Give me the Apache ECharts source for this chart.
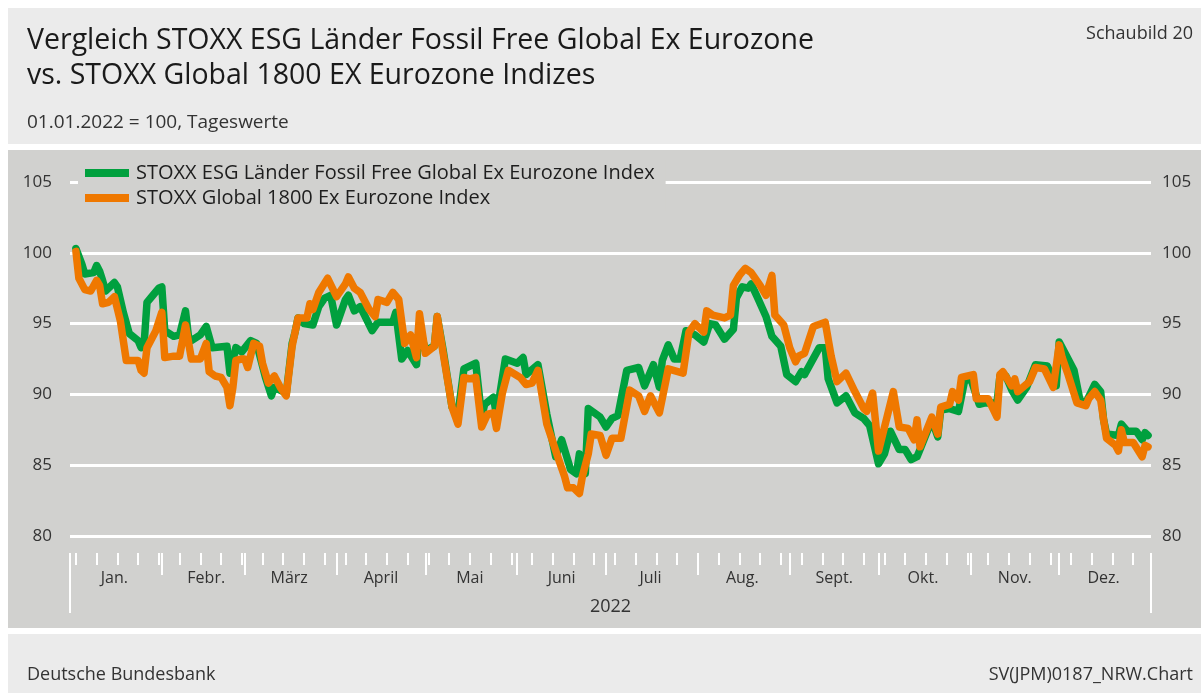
<!DOCTYPE html>
<html lang="de">
<head>
<meta charset="UTF-8">
<title>STOXX Vergleich</title>
<script src="https://cdn.jsdelivr.net/npm/echarts@6/dist/echarts.min.js"></script>
<style>html,body{margin:0;padding:0;background:#fff;}</style>
</head>
<body>
<div id="main" style="width:1201px;height:693px;"></div>
<script>
// Serien-Namen
var seriesNames = ['STOXX ESG Länder Fossil Free Global Ex Eurozone Index', 'STOXX Global 1800 Ex Eurozone Index'];

// STOXX ESG Länder Fossil Free Global Ex Eurozone (gruen)
var esgDates = ['2022-01-03','2022-01-05','2022-01-06','2022-01-09','2022-01-10','2022-01-11','2022-01-12','2022-01-13','2022-01-16','2022-01-17',
  '2022-01-19','2022-01-21','2022-01-24','2022-01-25','2022-01-26','2022-01-27','2022-01-29','2022-01-31','2022-02-01','2022-02-02',
  '2022-02-05','2022-02-07','2022-02-09','2022-02-10','2022-02-11','2022-02-14','2022-02-16','2022-02-18','2022-02-23','2022-02-24',
  '2022-02-26','2022-02-28','2022-03-03','2022-03-05','2022-03-08','2022-03-10','2022-03-11','2022-03-14','2022-03-15','2022-03-17',
  '2022-03-18','2022-03-19','2022-03-21','2022-03-24','2022-03-26','2022-03-28','2022-03-30','2022-04-01','2022-04-04','2022-04-05',
  '2022-04-07','2022-04-09','2022-04-13','2022-04-15','2022-04-20','2022-04-21','2022-04-23','2022-04-25','2022-04-28','2022-04-29',
  '2022-05-01','2022-05-04','2022-05-05','2022-05-07','2022-05-10','2022-05-12','2022-05-14','2022-05-18','2022-05-20','2022-05-21',
  '2022-05-24','2022-05-25','2022-05-28','2022-06-01','2022-06-03','2022-06-04','2022-06-08','2022-06-11','2022-06-14','2022-06-16',
  '2022-06-19','2022-06-21','2022-06-22','2022-06-24','2022-06-25','2022-06-29','2022-07-01','2022-07-03','2022-07-05','2022-07-08',
  '2022-07-12','2022-07-14','2022-07-17','2022-07-19','2022-07-20','2022-07-22','2022-07-24','2022-07-26','2022-07-28','2022-07-31',
  '2022-08-03','2022-08-05','2022-08-07','2022-08-10','2022-08-13','2022-08-14','2022-08-16','2022-08-18','2022-08-19','2022-08-21',
  '2022-08-24','2022-08-26','2022-08-29','2022-08-31','2022-09-03','2022-09-05','2022-09-06','2022-09-11','2022-09-13','2022-09-14',
  '2022-09-17','2022-09-20','2022-09-23','2022-09-26','2022-09-28','2022-10-01','2022-10-03','2022-10-05','2022-10-08','2022-10-10',
  '2022-10-12','2022-10-14','2022-10-15','2022-10-19','2022-10-21','2022-10-22','2022-10-25','2022-10-28','2022-10-30','2022-11-01',
  '2022-11-04','2022-11-06','2022-11-10','2022-11-11','2022-11-13','2022-11-15','2022-11-17','2022-11-20','2022-11-23','2022-11-27',
  '2022-11-30','2022-12-01','2022-12-03','2022-12-06','2022-12-08','2022-12-10','2022-12-13','2022-12-15','2022-12-16','2022-12-17',
  '2022-12-21','2022-12-22','2022-12-24','2022-12-27','2022-12-29','2022-12-30','2022-12-31'];
var esgValues = [100.3,99.2,98.5,98.6,99.1,98.7,98.05,97.3,97.9,97.6,
  95.8,94.3,93.8,93.3,93.5,96.5,97.0,97.5,97.6,94.5,
  94.1,94.2,95.9,94.1,93.8,94.2,94.8,93.3,93.4,91.5,
  93.3,93.0,93.8,93.6,91.2,89.9,90.5,90.2,90.0,93.6,
  94.4,95.4,95.0,94.9,96.2,96.8,97.0,94.9,96.7,97.0,
  95.9,96.2,94.5,95.1,95.1,95.8,92.5,93.1,92.1,94.8,
  93.1,93.4,95.5,93.1,89.1,88.6,91.8,92.2,88.4,89.3,
  89.8,88.5,92.5,92.2,92.6,91.4,92.1,88.6,85.6,86.8,
  84.7,84.4,85.8,84.4,89.0,88.4,87.7,88.3,88.5,91.7,
  91.9,90.6,92.1,90.5,92.4,93.5,92.5,92.5,94.5,94.2,
  93.7,95.0,94.9,93.9,94.6,96.8,97.6,97.5,97.8,96.9,
  95.5,94.1,93.4,91.4,90.9,91.6,91.4,93.3,93.3,91.1,
  89.4,89.9,88.7,88.3,87.8,85.1,85.8,87.4,86.1,86.1,
  85.4,85.6,86.1,88.2,87.0,88.9,89.0,88.8,90.9,91.2,
  89.3,89.4,89.4,91.3,91.3,90.3,89.6,90.5,92.1,92.0,
  90.6,93.7,92.9,91.7,89.6,89.4,90.7,90.2,88.2,87.2,
  87.1,87.9,87.4,87.4,86.8,87.3,87.1];

// STOXX Global 1800 Ex Eurozone (orange)
var globalDates = ['2022-01-03','2022-01-04','2022-01-06','2022-01-08','2022-01-10','2022-01-11','2022-01-12','2022-01-14','2022-01-16','2022-01-18',
  '2022-01-19','2022-01-20','2022-01-24','2022-01-25','2022-01-26','2022-01-27','2022-01-30','2022-02-01','2022-02-02','2022-02-05',
  '2022-02-07','2022-02-09','2022-02-11','2022-02-14','2022-02-16','2022-02-17','2022-02-19','2022-02-21','2022-02-23','2022-02-24',
  '2022-02-25','2022-02-26','2022-02-28','2022-03-01','2022-03-02','2022-03-04','2022-03-06','2022-03-07','2022-03-09','2022-03-11',
  '2022-03-13','2022-03-15','2022-03-17','2022-03-19','2022-03-22','2022-03-23','2022-03-24','2022-03-26','2022-03-29','2022-04-01',
  '2022-04-04','2022-04-05','2022-04-07','2022-04-09','2022-04-12','2022-04-14','2022-04-15','2022-04-18','2022-04-20','2022-04-22',
  '2022-04-24','2022-04-26','2022-04-28','2022-04-29','2022-05-01','2022-05-04','2022-05-05','2022-05-07','2022-05-10','2022-05-12',
  '2022-05-14','2022-05-16','2022-05-18','2022-05-20','2022-05-22','2022-05-24','2022-05-25','2022-05-27','2022-05-29','2022-06-02',
  '2022-06-04','2022-06-06','2022-06-08','2022-06-11','2022-06-15','2022-06-17','2022-06-18','2022-06-20','2022-06-22','2022-06-23',
  '2022-06-25','2022-06-26','2022-06-29','2022-07-01','2022-07-03','2022-07-06','2022-07-09','2022-07-12','2022-07-14','2022-07-16',
  '2022-07-19','2022-07-22','2022-07-27','2022-07-29','2022-07-31','2022-08-03','2022-08-04','2022-08-06','2022-08-10','2022-08-12',
  '2022-08-13','2022-08-15','2022-08-17','2022-08-19','2022-08-22','2022-08-24','2022-08-26','2022-08-27','2022-08-30','2022-09-01',
  '2022-09-03','2022-09-04','2022-09-06','2022-09-09','2022-09-13','2022-09-15','2022-09-17','2022-09-20','2022-09-23','2022-09-26',
  '2022-09-27','2022-09-29','2022-10-01','2022-10-06','2022-10-08','2022-10-11','2022-10-13','2022-10-14','2022-10-15','2022-10-19',
  '2022-10-21','2022-10-22','2022-10-25','2022-10-26','2022-10-28','2022-10-29','2022-11-02','2022-11-03','2022-11-07','2022-11-10',
  '2022-11-11','2022-11-12','2022-11-15','2022-11-16','2022-11-17','2022-11-21','2022-11-23','2022-11-26','2022-11-29','2022-12-01',
  '2022-12-02','2022-12-04','2022-12-07','2022-12-10','2022-12-11','2022-12-13','2022-12-15','2022-12-16','2022-12-17','2022-12-20',
  '2022-12-21','2022-12-22','2022-12-23','2022-12-26','2022-12-29','2022-12-30','2022-12-31'];
var globalValues = [100.1,98.2,97.4,97.3,98.05,97.7,96.4,96.5,96.9,95.2,
  93.8,92.4,92.4,91.7,91.5,93.3,94.5,95.8,92.6,92.7,
  92.7,94.9,92.5,92.5,93.6,91.6,91.3,91.2,90.5,89.2,
  90.5,92.4,92.5,92.5,91.9,93.6,93.4,92.2,90.8,91.3,
  90.5,89.9,93.4,95.4,95.4,96.4,96.0,97.2,98.2,96.9,
  97.8,98.3,97.5,97.2,96.0,95.5,96.7,96.5,97.2,96.7,
  93.6,94.2,92.6,95.7,92.9,93.4,95.5,92.9,89.1,87.9,
  91.2,91.1,91.2,87.7,88.6,88.7,87.6,90.1,91.7,91.2,
  90.7,90.8,91.7,87.9,85.4,84.2,83.4,83.4,83.0,84.2,
  85.8,87.2,87.1,85.7,86.9,86.9,90.3,89.9,88.8,89.9,
  88.7,91.8,91.5,94.4,95.0,94.4,95.9,95.6,95.4,95.6,
  97.7,98.4,98.9,98.6,97.7,97.0,98.4,95.6,94.9,93.3,
  92.3,92.7,92.9,94.8,95.1,92.7,90.9,91.5,90.2,89.0,
  88.8,90.1,86.0,90.2,87.7,87.6,86.8,88.2,86.3,88.4,
  87.2,89.1,89.3,90.2,89.6,91.2,91.4,89.7,89.7,88.4,
  91.4,91.6,90.6,91.1,90.2,90.9,91.9,91.8,90.5,93.5,
  92.6,91.4,89.4,89.2,89.7,90.2,89.6,88.2,86.9,86.4,
  86.0,87.5,86.6,86.6,85.6,86.4,86.3];

var monthLabels = ['Jan.','Febr.','März','April','Mai','Juni','Juli','Aug.','Sept.','Okt.','Nov.','Dez.'];
var yearLabel = '2022';
var yMin = 80, yMax = 105, yStep = 5;

var FONT = 'Open Sans';
var GREEN = '#00a03e', ORANGE = '#ef7800';
var PANEL = '#d1d1cf', HEAD = '#ebebeb';

function toTime(s) {
  var p = s.split('-');
  return new Date(+p[0], +p[1] - 1, +p[2]).getTime();
}
function zip(d, v) {
  var out = [];
  for (var i = 0; i < d.length; i++) out.push([toTime(d[i]), v[i]]);
  return out;
}

// Achsenmarken: Montage (Wochen), Monatsanfaenge, Jahresgrenzen, Monatsmitte fuer Beschriftung
var weekTicks = [], monthTicks = [], monthMid = [];
for (var t = new Date(2022, 0, 3); t.getFullYear() === 2022; t.setDate(t.getDate() + 7)) weekTicks.push(t.getTime());
for (var m = 1; m < 12; m++) monthTicks.push(new Date(2022, m, 1).getTime());
for (var m2 = 0; m2 < 12; m2++) monthMid.push(new Date(2022, m2, 16).getTime());
var yearTicks = [new Date(2022, 0, 1).getTime(), new Date(2023, 0, 1).getTime()];
var xMin = yearTicks[0], xMax = yearTicks[1];

function xAxisBase(ticks, len) {
  return {
    type: 'value', min: xMin, max: xMax, position: 'bottom', offset: 17,
    axisLine: {show: false},
    splitLine: {show: false},
    axisTick: {show: true, customValues: ticks, length: len, lineStyle: {color: '#fff', width: 2}},
    axisLabel: {show: false}
  };
}

var xMain = xAxisBase(weekTicks, 12);
xMain.axisLabel = {
  show: true, customValues: monthMid, margin: 17, fontSize: 16, color: '#333', fontFamily: FONT,
  formatter: function (val) { return monthLabels[new Date(val).getMonth()]; }
};
xMain.name = yearLabel;
xMain.nameLocation = 'middle';
xMain.nameGap = 45;
xMain.nameTextStyle = {fontSize: 18, color: '#333', fontFamily: FONT};

var small = {fontSize: 18, fontWeight: 'normal', color: '#333', fontFamily: FONT};

var myChart = echarts.init(document.getElementById('main'), null, {renderer: 'canvas'});
var option = {
  animation: false,
  backgroundColor: '#fff',
  textStyle: {fontFamily: FONT},
  graphic: [
    {type: 'rect', z: -1, silent: true, shape: {x: 8, y: 8, width: 1193, height: 136}, style: {fill: HEAD}},
    {type: 'rect', z: -1, silent: true, shape: {x: 8, y: 150, width: 1193, height: 478}, style: {fill: PANEL}},
    {type: 'rect', z: -1, silent: true, shape: {x: 8, y: 634, width: 1193, height: 59}, style: {fill: HEAD}}
  ],
  title: [
    {text: 'Vergleich STOXX ESG Länder Fossil Free Global Ex Eurozone\nvs. STOXX Global 1800 EX Eurozone Indizes',
     left: 27, top: 23, padding: 0,
     textStyle: {fontSize: 28.5, fontWeight: 500, color: '#1a1a1a', lineHeight: 35, fontFamily: FONT}},
    {text: '01.01.2022 = 100, Tageswerte', left: 27, top: 113, padding: 0,
     textStyle: {fontSize: 19, fontWeight: 'normal', color: '#333', fontFamily: FONT}},
    {text: 'Schaubild 20', right: 8, top: 25, padding: 0, textStyle: small},
    {text: 'Deutsche Bundesbank', left: 27, top: 666, padding: 0, textStyle: small},
    {text: 'SV(JPM)0187_NRW.Chart', right: 8, top: 666, padding: 0, textStyle: small}
  ],
  legend: {
    orient: 'vertical', left: 78, top: 160,
    backgroundColor: PANEL, padding: [2, 11, 2, 7],
    itemWidth: 44, itemHeight: 8, itemGap: 3, icon: 'rect',
    textStyle: {fontSize: 20, color: '#1e1e1e', fontFamily: FONT, lineHeight: 22, padding: [0, 0, 0, 2]},
    data: seriesNames
  },
  grid: {left: 70, right: 50, top: 182, bottom: 157, outerBoundsMode: 'none'},
  xAxis: [xMain, xAxisBase(monthTicks, 22), xAxisBase(yearTicks, 60)],
  yAxis: [
    {type: 'value', min: yMin, max: yMax, interval: yStep, position: 'left',
     axisLine: {show: false}, axisTick: {show: false},
     axisLabel: {fontSize: 17, color: '#333', margin: 18, fontFamily: FONT},
     splitLine: {lineStyle: {color: '#fff', width: 3}}},
    {type: 'value', min: yMin, max: yMax, interval: yStep, position: 'right',
     axisLine: {show: false}, axisTick: {show: false},
     axisLabel: {fontSize: 17, color: '#333', margin: 11, fontFamily: FONT},
     splitLine: {show: false}}
  ],
  series: [
    {name: seriesNames[0], type: 'line', data: zip(esgDates, esgValues), symbol: 'none',
     lineStyle: {width: 7.5, color: GREEN, join: 'round', cap: 'round'}, itemStyle: {color: GREEN}},
    {name: seriesNames[1], type: 'line', data: zip(globalDates, globalValues), symbol: 'none',
     lineStyle: {width: 7.5, color: ORANGE, join: 'round', cap: 'round'}, itemStyle: {color: ORANGE}}
  ]
};
myChart.setOption(option);
</script>
</body>
</html>
